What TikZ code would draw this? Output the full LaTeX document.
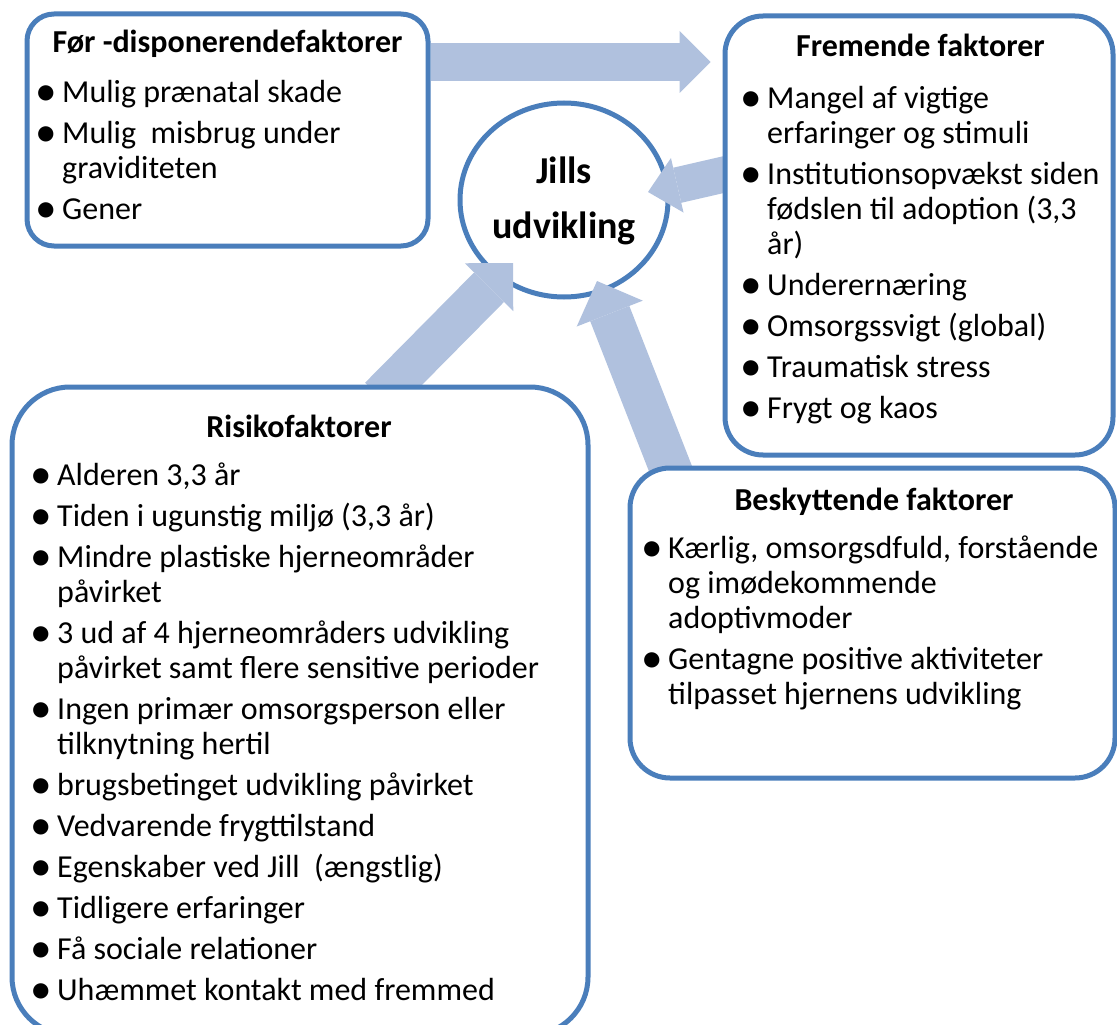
\documentclass[tikz,border=0pt]{standalone}
\usepackage{fontspec}
\setmainfont{Carlito}
\usepackage{tikz}
\usetikzlibrary{arrows.meta, calc, positioning, shapes.geometric}

\definecolor{kantblaa}{HTML}{4A7EBB}
\definecolor{pilblaa}{HTML}{B0C1DE}
\newcommand{\pkt}{\makebox[20pt][l]{\hspace{-7pt}\raisebox{-3.5pt}{\scalebox{1.35}{\textbullet}}}}
\newcommand{\fort}{\hspace*{20pt}}
\pgfdeclarelayer{bagved}
\pgfsetlayers{bagved,main}

\begin{document}
\begin{tikzpicture}[x=1pt, y=-1pt,
    boks/.style={draw=kantblaa, line width=5pt, fill=white, inner sep=0pt},
    overskrift/.style={font=\fontsize{32}{36}\selectfont\bfseries, inner sep=0pt, anchor=base},
    punkter/.style={font=\fontsize{32}{35}\selectfont, align=left, inner sep=0pt, anchor=base west},
    blokpil/.style n args={3}{draw=pilblaa, line width=#1, -{Triangle[length=#2, width=#3, line width=0pt]}}]
    \useasboundingbox (0,0) rectangle (1117,1025);

    % 1. Boksene med faktorer
    \node[boks, rounded corners=27pt, minimum width=401pt, minimum height=232pt] (foer) at (227.5,130) {};
    \node[boks, rounded corners=38pt, minimum width=388pt, minimum height=439pt] (frem) at (919,235.5) {};
    \node[boks, rounded corners=58pt, minimum width=576pt, minimum height=648pt] (risiko) at (300,711) {};
    \node[boks, rounded corners=40pt, minimum width=485pt, minimum height=310pt] (besk) at (872.5,623) {};

    % 2. Overskrifter
    \node[overskrift] (foerhead) at (227.5,53) {Før -disponerendefaktorer};
    \node[overskrift] (fremhead) at (920.5,57) {Fremende faktorer};
    \node[overskrift] (risikohead) at (299,437) {Risikofaktorer};
    \node[overskrift] (beskhead) at (874,510) {Beskyttende faktorer};

    % 3. Punkterne i hver boks (placeret ved sidste linjes grundlinje)
    \node[punkter] (foerliste) at (42,219) {%
        \pkt Mulig prænatal skade\\[6pt]
        \pkt Mulig\ \ misbrug under\\
        \fort graviditeten\\[6pt]
        \pkt Gener};
    \node[punkter] (fremliste) at (747,418) {%
        \pkt Mangel af vigtige\\
        \fort erfaringer og stimuli\\[6pt]
        \pkt Institutionsopvækst siden\\
        \fort fødslen til adoption (3,3\\
        \fort år)\\[6pt]
        \pkt Underernæring\\[6pt]
        \pkt Omsorgssvigt (global)\\[6pt]
        \pkt Traumatisk stress\\[6pt]
        \pkt Frygt og kaos};
    \node[punkter] (risikoliste) at (37,1000) {%
        \pkt Alderen 3,3 år\\[6pt]
        \pkt Tiden i ugunstig miljø (3,3 år)\\[6pt]
        \pkt Mindre plastiske hjerneområder\\
        \fort påvirket\\[6pt]
        \pkt 3 ud af 4 hjerneområders udvikling\\
        \fort påvirket samt flere sensitive perioder\\[6pt]
        \pkt Ingen primær omsorgsperson eller\\
        \fort tilknytning hertil\\[6pt]
        \pkt brugsbetinget udvikling påvirket\\[6pt]
        \pkt Vedvarende frygttilstand\\[6pt]
        \pkt Egenskaber ved Jill\ \ (ængstlig)\\[6pt]
        \pkt Tidligere erfaringer\\[6pt]
        \pkt Få sociale relationer\\[6pt]
        \pkt Uhæmmet kontakt med fremmed};
    \node[punkter] (beskliste) at (648,704) {%
        \pkt Kærlig, omsorgsdfuld, forstående\\
        \fort og imødekommende\\
        \fort adoptivmoder\\[6pt]
        \pkt Gentagne positive aktiviteter\\
        \fort tilpasset hjernens udvikling};

    % 4. Cirklen og pilene ligger bag boksene
    \begin{pgfonlayer}{bagved}
        \node[ellipse, draw=kantblaa, line width=5pt, minimum width=208pt, minimum height=194pt] (jill) at (564,200) {};
        \coordinate (spids2) at (648,192);
        \coordinate (spids3) at (513,263);
        \coordinate (spids4) at (597,281);
        \draw[blokpil={38pt}{31pt}{62pt}] (foer.east |- 0,62) -- ([xshift=-12pt]frem.west |- 0,62);
        \draw[blokpil={36pt}{30pt}{56pt}] ([xshift=8pt]frem.west |- 0,173) -- (spids2);
        \draw[blokpil={42pt}{34pt}{68pt}] ($(risiko.north)+(80,13)$) -- (spids3);
        \draw[blokpil={42pt}{35pt}{71pt}] ($(besk.north)+(-197,16)$) -- (spids4);
    \end{pgfonlayer}

    \node[font=\fontsize{38}{55}\selectfont\bfseries, align=center, inner sep=0pt, anchor=base] (jilltekst) at (564,238) {Jills\\udvikling};
\end{tikzpicture}
\end{document}
